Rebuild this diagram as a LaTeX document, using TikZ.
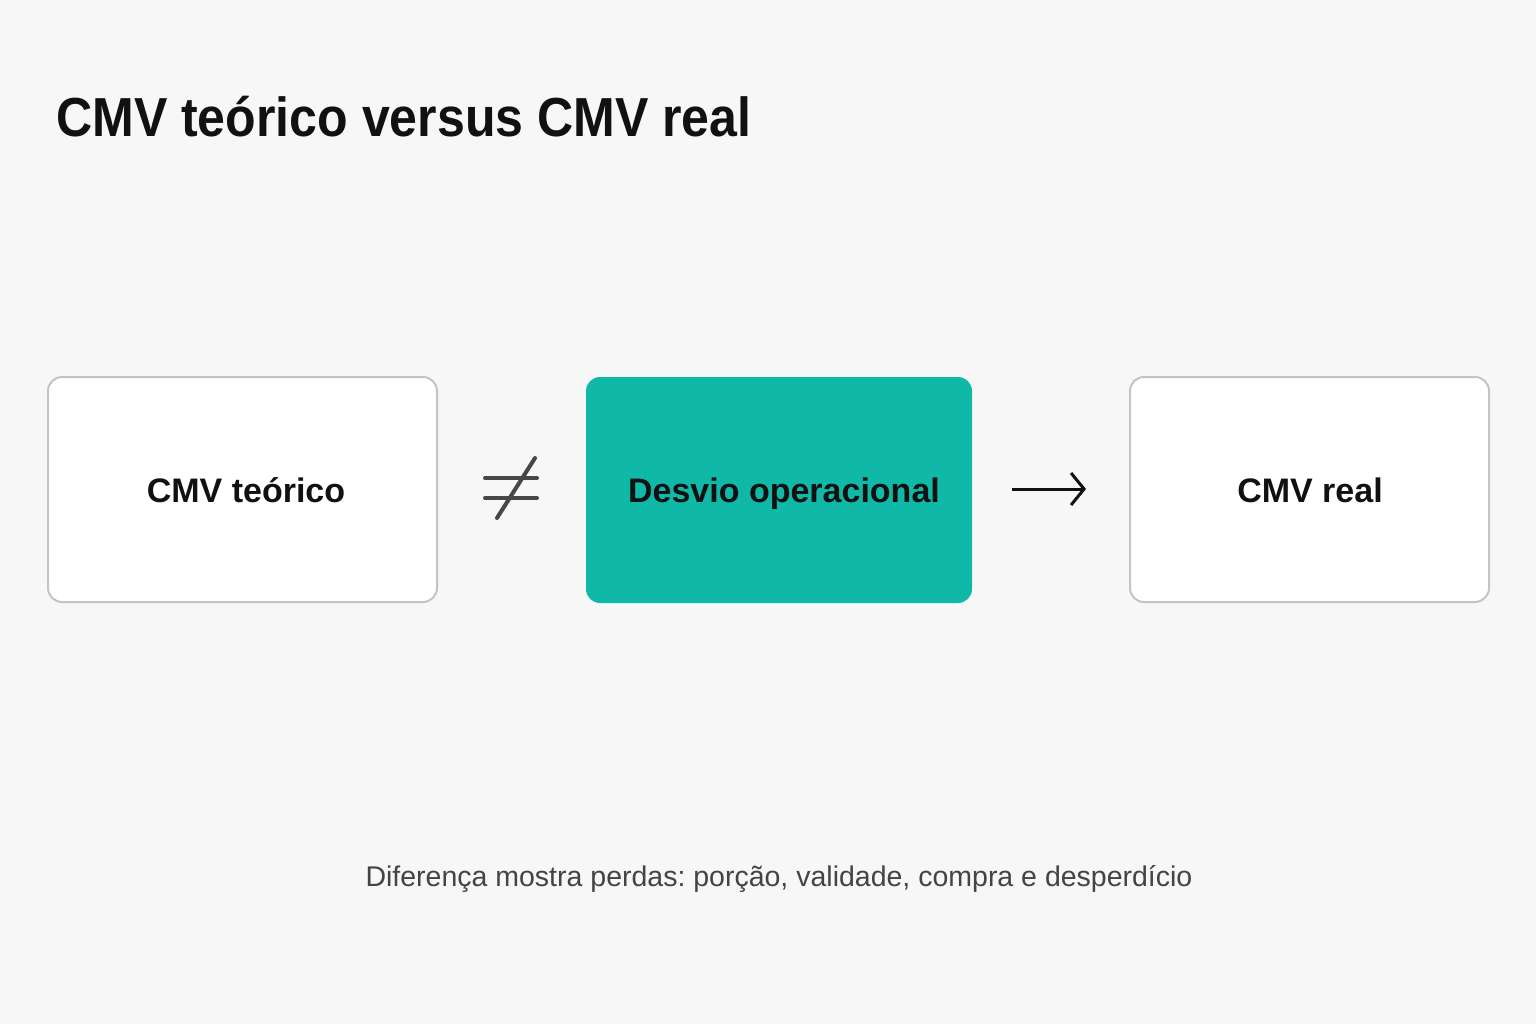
\documentclass[tikz,border=0pt]{standalone}
\usepackage{fontspec}
\setmainfont{Liberation Sans}
\newfontfamily\titlefont[FakeStretch=0.91]{Liberation Sans}
\usetikzlibrary{arrows.meta}
\frenchspacing
\definecolor{bg}{HTML}{F7F7F7}
\definecolor{teal1}{HTML}{10B8A7}
\definecolor{boxline}{HTML}{C4C4C4}
\definecolor{ink}{HTML}{111111}
\definecolor{neqc}{HTML}{474747}
\definecolor{foot}{HTML}{444444}
\tikzset{
  card/.style={rounded corners=14pt, line width=2pt, draw=boxline, fill=white},
  accent/.style={rounded corners=14pt, fill=teal1},
  cardtext/.style={font=\fontsize{34}{40}\selectfont\bfseries, text=ink, anchor=base, inner sep=0},
  neqline/.style={neqc, line width=4pt, line cap=round},
}
\begin{document}
\begin{tikzpicture}[x=1pt,y=-1pt]
\useasboundingbox (0,0) rectangle (1536,1024);
\fill[bg] (0,0) rectangle (1536,1024);
\node[anchor=base west, inner sep=0, font=\titlefont\fontsize{55}{60}\selectfont\bfseries, text=ink] (title) at (56,137) {CMV teórico versus CMV real};
\draw[card] (48,377) rectangle (437,602);
\node[cardtext] (a) at (246,502) {CMV teórico};
\fill[accent] (586,377) rectangle (972,603);
\node[cardtext] (b) at (784,502) {Desvio operacional};
\draw[card] (1130,377) rectangle (1489,602);
\node[cardtext] (c) at (1310,502) {CMV real};
% not-equal sign
\coordinate (n1) at (485,478); \coordinate (n2) at (537,478);
\coordinate (n3) at (485,498); \coordinate (n4) at (537,498);
\coordinate (n5) at (535,458); \coordinate (n6) at (497,518);
\draw[neqline] (n1) -- (n2);
\draw[neqline] (n3) -- (n4);
\draw[neqline] (n5) -- (n6);
% arrow
\coordinate (r1) at (1012,489); \coordinate (r2) at (1086,489);
\draw[ink, line width=3pt, -{Straight Barb[length=13pt, width=32pt, line width=3pt]}] (r1) -- (r2);
\node[anchor=base, inner sep=0, font=\fontsize{28.5}{34}\selectfont, text=foot] (note) at (779,886) {Diferença mostra perdas: porção, validade, compra e desperdício};
\end{tikzpicture}
\end{document}
